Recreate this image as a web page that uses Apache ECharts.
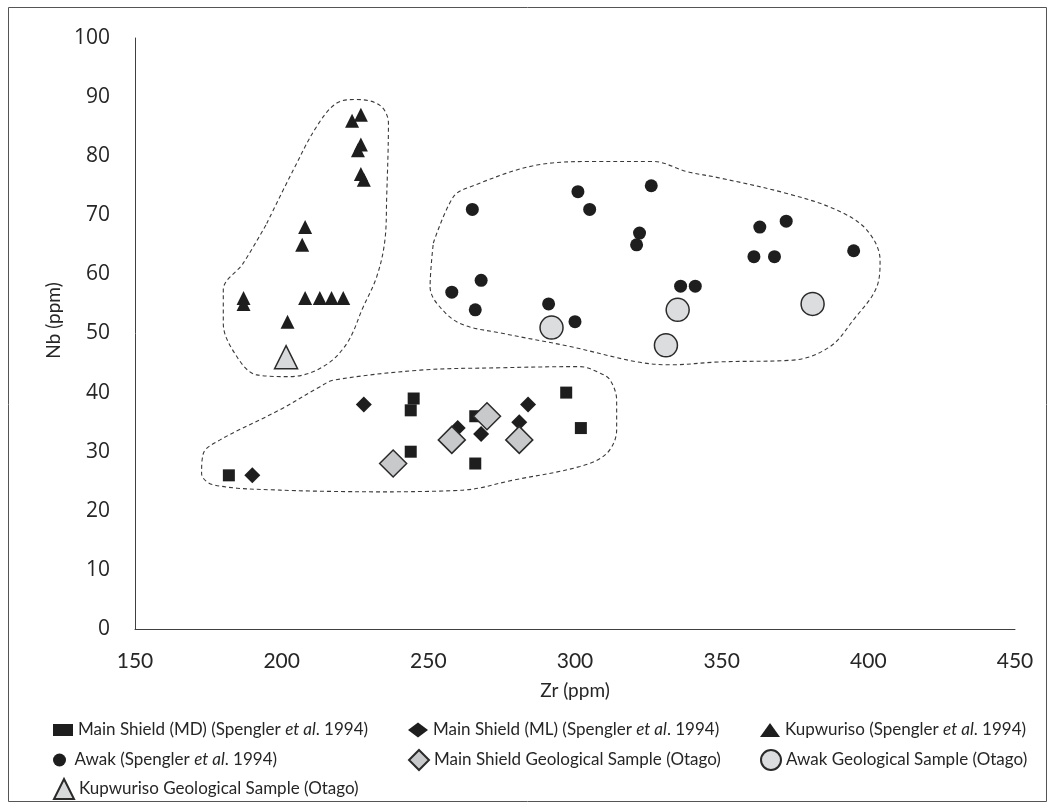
<!DOCTYPE html>
<html>
<head>
<meta charset="utf-8">
<script src="https://cdn.jsdelivr.net/npm/echarts@6/dist/echarts.min.js"></script>
<style>
  html, body { margin: 0; padding: 0; background: #fff; }
  #chart { width: 1054px; height: 803px; }
</style>
</head>
<body>
<div id="chart"></div>
<script>
// [Zr, Nb] in ppm
const mainShieldMD = [[182, 26], [245, 39], [244, 37], [244, 30], [266, 36], [266, 28], [297, 40], [302, 34]];
const mainShieldML = [[190, 26], [228, 38], [260, 34], [268, 33], [284, 38], [281, 35]];
const kupwuriso = [
  [224, 86], [227, 87], [226, 81], [227, 82], [227, 77], [228, 76], [208, 68], [207, 65],
  [187, 56], [187, 55], [208, 56], [213, 56], [217, 56], [221, 56], [202, 52]
];
const awak = [
  [265, 71], [301, 74], [305, 71], [326, 75], [322, 67], [321, 65], [363, 68], [372, 69], [361, 63],
  [368, 63], [395, 64], [268, 59], [258, 57], [266, 54], [291, 55], [300, 52], [336, 58], [341, 58]
];
const mainShieldOtago = [[238, 28], [258, 32], [270, 36], [281, 32]];
const awakOtago = [[292, 51], [335, 54], [331, 48], [381, 55]];
const kupwurisoOtago = [[201.5, 46]];

// hand drawn group outlines (closed, start on a flat stretch)
const kupwurisoOutline = [[194.9, 68.6], [204, 77.7], [211.9, 85], [218.8, 89], [225.6, 89.6], [233.5, 88.6], [236.4, 85.6],
  [235.8, 73.1], [235.2, 65.8], [232.4, 59.6], [227.8, 54.5], [222.2, 48.3], [214.2, 44.4], [202.8, 42.7], [191.5, 43],
  [184.7, 46.1], [180.1, 51.7], [180.1, 57.4], [186.9, 61.9], [194.9, 68.6]];
const awakOutline = [[251.7, 65.3], [258.5, 73.1], [264.2, 74.8], [287, 78.5], [306.3, 79.1], [326.7, 79.1], [338.1, 77.4],
  [349.5, 76.3], [372.2, 73.7], [389.2, 70.9], [399.5, 67.5], [404, 62.4], [402.9, 57.9], [394.9, 52.3], [387, 47.8],
  [374.4, 45.5], [349.5, 45.2], [332.4, 44.7], [321.1, 45.2], [298.3, 47.8], [275.6, 50], [260.8, 51.7], [252.9, 55.1],
  [250.6, 57.9], [251.7, 65.3]];
const mainShieldOutline = [[233.5, 23.2], [199.4, 23.5], [176.7, 24.4], [172.7, 26.3], [173.3, 29.7], [179, 32],
  [199.4, 37.1], [213.1, 41], [217.6, 42.1], [247.2, 43.8], [274.4, 44.2], [301.7, 44.4], [308.5, 43.3], [312, 42.1],
  [314.2, 38.7], [314.2, 33.7], [310.8, 29.7], [301.7, 27.5], [279, 25.2], [261.9, 23.5], [233.5, 23.2]];

const xTicks = { min: 150, max: 450, interval: 50 };
const yTicks = { min: 0, max: 100, interval: 10 };

const names = {
  md: 'Main Shield (MD) (Spengler et al. 1994)',
  ml: 'Main Shield (ML) (Spengler et al. 1994)',
  kup: 'Kupwuriso (Spengler et al. 1994)',
  awak: 'Awak (Spengler et al. 1994)',
  msO: 'Main Shield Geological Sample (Otago)',
  awO: 'Awak Geological Sample (Otago)',
  kuO: 'Kupwuriso Geological Sample (Otago)'
};

const TEXT = '#262626';
const BLACK = '#1e1e1e';

function scatter(name, data, symbol, size, fill, border) {
  return {
    name: name,
    type: 'scatter',
    data: data,
    symbol: symbol,
    symbolSize: size,
    itemStyle: {
      color: fill,
      borderColor: border || fill,
      borderWidth: border ? 1.5 : 0,
      opacity: 1
    },
    emphasis: { disabled: true }
  };
}

function outline(data) {
  return {
    type: 'line',
    data: data,
    smooth: 0.35,
    symbol: 'none',
    silent: true,
    lineStyle: { color: '#3a3a3a', width: 1.1, type: [4, 3] },
    z: 1
  };
}

// one legend per entry so each icon can take its own size
function legendItem(name, left, top, iconSize) {
  return {
    data: [name],
    left: left,
    top: top,
    itemWidth: 20,
    itemHeight: iconSize,
    itemGap: 5,
    selectedMode: false,
    formatter: function (n) {
      return n.replace('et al', '{i|et al}');
    },
    textStyle: {
      fontFamily: 'Lato',
      fontSize: 17,
      color: TEXT,
      lineHeight: 22,
      rich: { i: { fontStyle: 'italic', fontFamily: 'Lato', fontSize: 17, color: TEXT } }
    }
  };
}

const chart = echarts.init(document.getElementById('chart'));
chart.setOption({
  animation: false,
  backgroundColor: '#fff',
  grid: { left: 135, right: 39, top: 38, bottom: 174 },
  xAxis: {
    type: 'value',
    min: xTicks.min,
    max: xTicks.max,
    interval: xTicks.interval,
    name: 'Zr (ppm)',
    nameLocation: 'middle',
    nameGap: 52,
    nameTextStyle: { fontFamily: 'Lato', fontSize: 19, color: TEXT },
    axisLine: { lineStyle: { color: '#404040', width: 1 } },
    axisTick: { show: false },
    splitLine: { show: false },
    axisLabel: { margin: 22, fontFamily: 'Lato', fontSize: 21, color: TEXT }
  },
  yAxis: {
    type: 'value',
    min: yTicks.min,
    max: yTicks.max,
    interval: yTicks.interval,
    name: 'Nb (ppm)',
    nameLocation: 'middle',
    nameGap: 62,
    nameTextStyle: { fontFamily: 'Lato', fontSize: 19, color: TEXT, padding: [0, 0, 0, 26] },
    axisLine: { show: true, lineStyle: { color: '#404040', width: 1 } },
    axisTick: { show: false },
    splitLine: { show: false },
    axisLabel: { margin: 25, fontFamily: 'Open Sans', fontSize: 21, color: TEXT }
  },
  legend: [
    legendItem(names.md, 48, 714, 12),
    legendItem(names.awak, 48, 744, 13),
    legendItem(names.kuO, 48, 773, 20),
    legendItem(names.ml, 403, 714, 15),
    legendItem(names.msO, 403, 744, 20),
    legendItem(names.kup, 755, 714, 14),
    legendItem(names.awO, 755, 744, 20)
  ],
  graphic: [{
    type: 'rect',
    shape: { x: 8.5, y: 7.5, width: 1038, height: 794 },
    style: { fill: null, stroke: '#555', lineWidth: 1 },
    silent: true,
    z: -1
  }],
  series: [
    outline(kupwurisoOutline),
    outline(awakOutline),
    outline(mainShieldOutline),
    scatter(names.md, mainShieldMD, 'rect', 12, BLACK),
    scatter(names.ml, mainShieldML, 'diamond', 16, BLACK),
    scatter(names.kup, kupwuriso, 'triangle', 14, BLACK),
    scatter(names.awak, awak, 'circle', 13, BLACK),
    scatter(names.msO, mainShieldOtago, 'diamond', 27, '#c8c9ca', '#2a2a2a'),
    scatter(names.awO, awakOtago, 'circle', 23, '#dcdddf', '#2a2a2a'),
    scatter(names.kuO, kupwurisoOtago, 'triangle', 23, '#d8d9da', '#2a2a2a')
  ]
});
</script>
</body>
</html>
